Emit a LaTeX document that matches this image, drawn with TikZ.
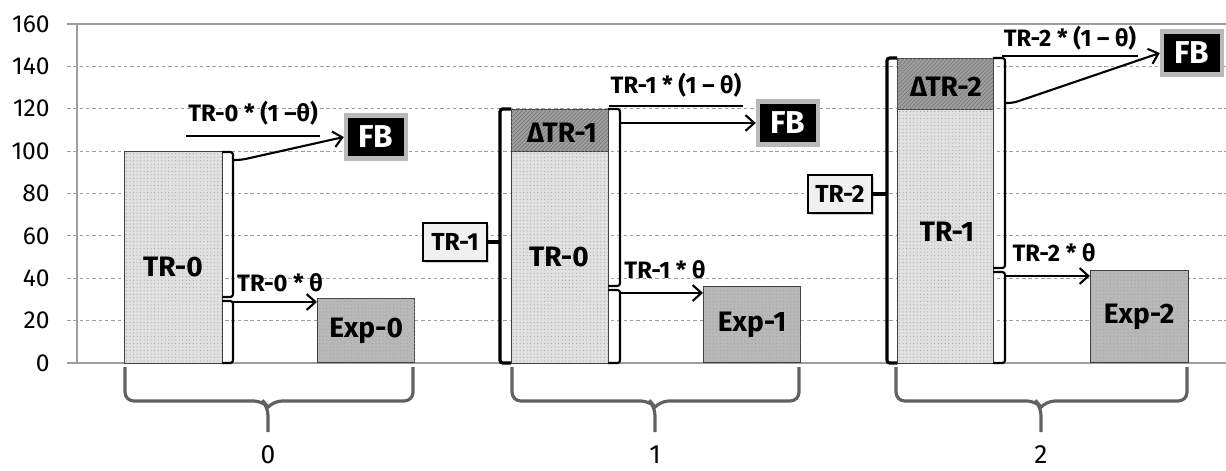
\documentclass[tikz,border=0pt]{standalone}
\usepackage{fontspec}
\setmainfont{Fira Sans}
\usetikzlibrary{patterns.meta,shadows,arrows.meta}

\definecolor{trgray}{gray}{0.88}
\definecolor{expgray}{gray}{0.72}
\definecolor{dtrgray}{gray}{0.62}
\definecolor{gridgray}{gray}{0.62}

\tikzset{
  barlabel/.style={font=\bfseries\fontsize{16}{18}\selectfont, inner sep=0pt},
  flowlabel/.style={font=\bfseries\fontsize{13.5}{15}\selectfont, inner sep=1pt},
  ticklabel/.style={font=\fontsize{14}{16}\selectfont, inner sep=0pt},
  trbar/.style={draw=black!75, line width=.5pt, fill=trgray,
    postaction={pattern={Dots[distance=2pt,radius=.3pt]}, pattern color=gray!75}},
  expbar/.style={trbar, fill=expgray, anchor=south west, minimum width=1.95cm,
    font=\bfseries\fontsize{16}{18}\selectfont, inner sep=0pt},
  dtrbar/.style={draw=black!75, line width=.5pt, fill=dtrgray,
    postaction={pattern={Lines[angle=45,distance=1.6pt,line width=.3pt]}, pattern color=black!55}},
  fbbox/.style={fill=black, draw=gray!55, line width=2.5pt, text=white,
    font=\bfseries\fontsize{18}{20}\selectfont, minimum width=1.2cm, minimum height=.86cm,
    drop shadow={opacity=.3, shadow xshift=.8pt, shadow yshift=-.8pt}},
  trbox/.style={fill=gray!12, draw=black, line width=1pt,
    font=\bfseries\fontsize{14}{16}\selectfont, minimum width=1.28cm, minimum height=.76cm,
    drop shadow={opacity=.35, shadow xshift=1pt, shadow yshift=-1pt}},
  brk/.style={line width=1.2pt, rounded corners=1.5pt},
  lbrk/.style={line width=1.8pt, rounded corners=1.5pt},
  flow/.style={-{Straight Barb[length=5pt,width=9pt]}, line width=1.2pt, rounded corners=3pt},
  uline/.style={line width=1.2pt},
  brace/.style={draw=black!62, line width=1.8pt, rounded corners=5pt},
}

\begin{document}
\begin{tikzpicture}[x=0.02cm, y=-0.02cm]

  \fill[white] (0,0) rectangle (1226,470);
  \useasboundingbox (0,0) rectangle (1226,470);

  \foreach \v in {20,40,...,140}
    \draw[gridgray, dash pattern=on 2pt off 1.6pt, line width=.5pt] (67,{363-2.12*\v}) -- (1226,{363-2.12*\v});
  \draw[gridgray, line width=.8pt] (67,24) -- (1226,24);
  \draw[gridgray, line width=.8pt] (67,363) -- (1226,363);
  \draw[gridgray, line width=.8pt] (77,24) -- (77,363);
  \foreach \v in {0,20,...,160}
    \node[ticklabel, anchor=east] (t\v) at (50,{363-2.12*\v}) {\v};

  % period 0
  \draw[trbar] (124,363) rectangle (222,151);
  \node[barlabel] (tr0a) at (173,267) {TR-0};
  \node[expbar, minimum height=1.28cm] (exp0) at (317,363) {Exp-0};
  \draw[brk] (222,152) -- (233,152) -- (233,297) -- (222,297);
  \draw[brk] (222,301) -- (233,301) -- (233,363) -- (222,363);
  \coordinate (up0) at (233,160);
  \coordinate (dn0) at (233,302);
  \node[fbbox] (fb0) at (376,137) {FB};
  \node[flowlabel] (f0) at (253,113) {TR-0 * (1 –θ)};
  \draw[uline] ([yshift=-5pt]f0.south west) -- ([yshift=-5pt]f0.south east);
  \node[flowlabel] (g0) at (280,283) {TR-0 * θ};
  \draw[flow] (up0) -- ++(8,0) -- (fb0.west);
  \draw[flow] (dn0) -- (dn0 -| exp0.west);

  % period 1
  \draw[trbar] (511,363) rectangle (608,151);
  \draw[dtrbar] (511,151) rectangle (608,109);
  \node[barlabel] (tr0b) at (559,257) {TR-0};
  \node[barlabel] (dtr1) at (562,133) {ΔTR-1};
  \node[expbar, minimum height=1.52cm] (exp1) at (703,363) {Exp-1};
  \draw[lbrk] (511,109) -- (500,109) -- (500,363) -- (511,363);
  \draw[brk] (608,109) -- (620,109) -- (620,286) -- (608,286);
  \draw[brk] (608,290) -- (620,290) -- (620,363) -- (608,363);
  \coordinate (lt1) at (500,242);
  \coordinate (up1) at (620,123);
  \coordinate (dn1) at (620,293);
  \node[trbox] (trl1) at (455,242) {TR-1};
  \node[fbbox] (fb1) at (788,123) {FB};
  \node[flowlabel] (f1) at (676,85) {TR-1 * (1 – θ)};
  \draw[uline] ([yshift=-4pt]f1.south west) -- ([yshift=-4pt]f1.south east);
  \node[flowlabel] (g1) at (665,270) {TR-1 * θ};
  \draw[lbrk] (lt1) -- (trl1.east);
  \draw[flow] (up1) -- (fb1.west);
  \draw[flow] (dn1) -- (dn1 -| exp1.west);

  % period 2
  \draw[trbar] (897,363) rectangle (993,109);
  \draw[dtrbar] (897,109) rectangle (993,58);
  \node[barlabel] (tr1c) at (947,232) {TR-1};
  \node[barlabel] (dtr2) at (946,87) {ΔTR-2};
  \node[expbar, minimum height=1.84cm] (exp2) at (1090,363) {Exp-2};
  \draw[lbrk] (897,58) -- (887,58) -- (887,363) -- (897,363);
  \draw[brk] (993,58) -- (1005,58) -- (1005,268) -- (993,268);
  \draw[brk] (993,272) -- (1005,272) -- (1005,363) -- (993,363);
  \coordinate (lt2) at (887,194);
  \coordinate (up2) at (1005,103);
  \coordinate (dn2) at (1005,276);
  \node[trbox] (trl2) at (840,194) {TR-2};
  \node[fbbox] (fb2) at (1192,53) {FB};
  \node[flowlabel] (f2) at (1070,38) {TR-2 * (1 – θ)};
  \draw[uline] ([yshift=-2pt]f2.south west) -- ([yshift=-2pt]f2.south east);
  \node[flowlabel] (g2) at (1054,253) {TR-2 * θ};
  \draw[lbrk] (lt2) -- (trl2.east);
  \draw[flow] (up2) -- ++(8,0) -- (fb2.west);
  \draw[flow] (dn2) -- (dn2 -| exp2.west);

  % periods
  \foreach \l/\r/\c/\t in {125/413/268/0, 512/799/655/1, 896/1187/1041/2} {
    \draw[brace] (\l,367) -- (\l,401) -- (\c-5,401) -- (\c,407) -- (\c,432);
    \draw[brace] (\r,367) -- (\r,401) -- (\c+5,401) -- (\c,407);
    \node[ticklabel, font=\fontsize{15}{17}\selectfont] (p\t) at (\c,455) {\t};
  }

\end{tikzpicture}
\end{document}
